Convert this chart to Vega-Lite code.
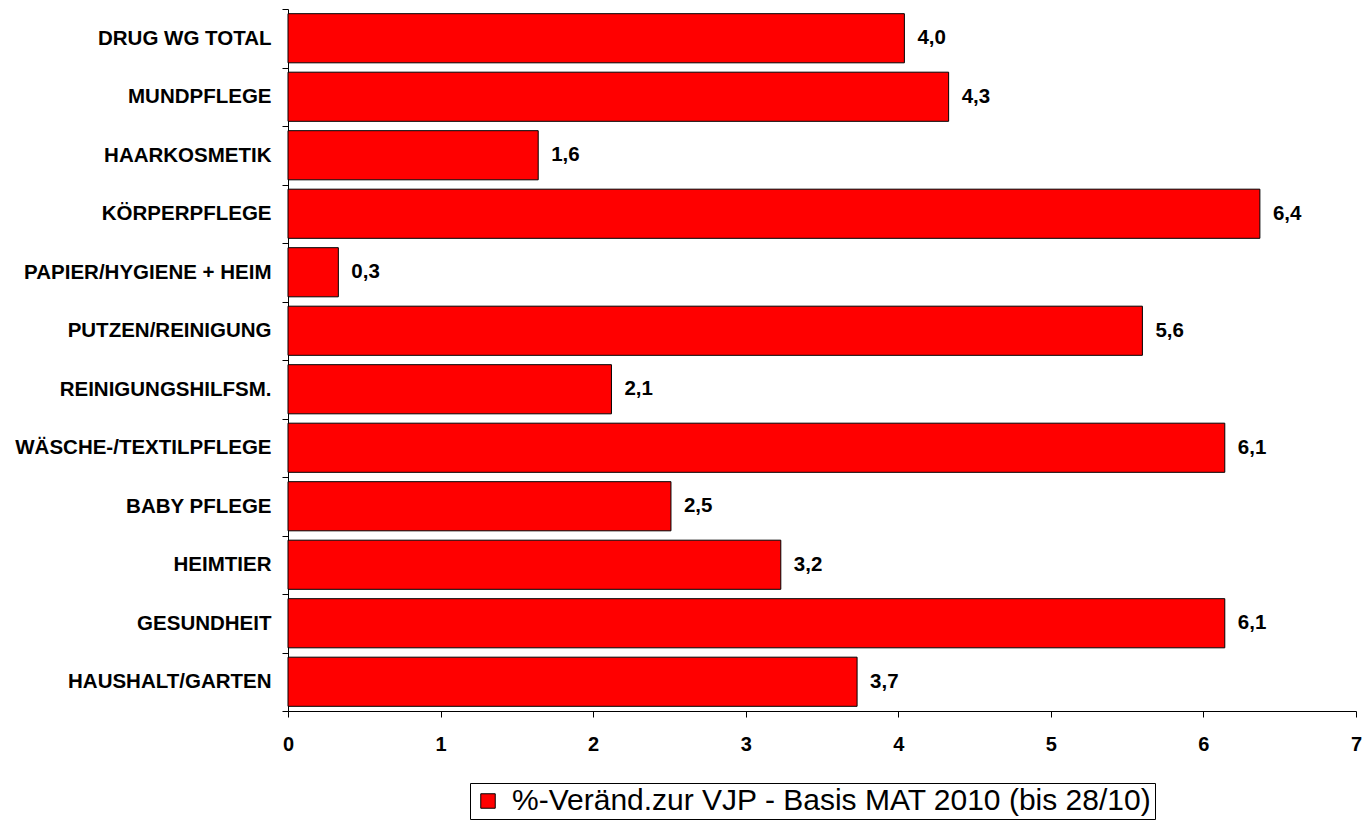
{
  "$schema": "https://vega.github.io/schema/vega-lite/v6.json",
  "autosize": {"type": "none"},
  "padding": {"left": 288, "top": 9, "right": 6, "bottom": 114},
  "width": 1068,
  "height": 702,
  "background": "white",
  "data": {
    "values": [
      {"kategorie": "DRUG WG TOTAL", "wert": 4.04, "label": "4,0", "serie": "%-Veränd.zur VJP - Basis MAT 2010 (bis 28/10)"},
      {"kategorie": "MUNDPFLEGE", "wert": 4.33, "label": "4,3", "serie": "%-Veränd.zur VJP - Basis MAT 2010 (bis 28/10)"},
      {"kategorie": "HAARKOSMETIK", "wert": 1.64, "label": "1,6", "serie": "%-Veränd.zur VJP - Basis MAT 2010 (bis 28/10)"},
      {"kategorie": "KÖRPERPFLEGE", "wert": 6.37, "label": "6,4", "serie": "%-Veränd.zur VJP - Basis MAT 2010 (bis 28/10)"},
      {"kategorie": "PAPIER/HYGIENE + HEIM", "wert": 0.33, "label": "0,3", "serie": "%-Veränd.zur VJP - Basis MAT 2010 (bis 28/10)"},
      {"kategorie": "PUTZEN/REINIGUNG", "wert": 5.6, "label": "5,6", "serie": "%-Veränd.zur VJP - Basis MAT 2010 (bis 28/10)"},
      {"kategorie": "REINIGUNGSHILFSM.", "wert": 2.12, "label": "2,1", "serie": "%-Veränd.zur VJP - Basis MAT 2010 (bis 28/10)"},
      {"kategorie": "WÄSCHE-/TEXTILPFLEGE", "wert": 6.14, "label": "6,1", "serie": "%-Veränd.zur VJP - Basis MAT 2010 (bis 28/10)"},
      {"kategorie": "BABY PFLEGE", "wert": 2.51, "label": "2,5", "serie": "%-Veränd.zur VJP - Basis MAT 2010 (bis 28/10)"},
      {"kategorie": "HEIMTIER", "wert": 3.23, "label": "3,2", "serie": "%-Veränd.zur VJP - Basis MAT 2010 (bis 28/10)"},
      {"kategorie": "GESUNDHEIT", "wert": 6.14, "label": "6,1", "serie": "%-Veränd.zur VJP - Basis MAT 2010 (bis 28/10)"},
      {"kategorie": "HAUSHALT/GARTEN", "wert": 3.73, "label": "3,7", "serie": "%-Veränd.zur VJP - Basis MAT 2010 (bis 28/10)"}
    ]
  },
  "encoding": {
    "y": {
      "field": "kategorie",
      "type": "nominal",
      "sort": null,
      "title": null,
      "scale": {"paddingInner": 0, "paddingOuter": 0},
      "axis": {
        "tickBand": "extent",
        "tickSize": 6,
        "tickColor": "black",
        "domainColor": "black",
        "domainWidth": 1,
        "labelPadding": 11,
        "labelFont": "Liberation Sans",
        "labelFontSize": 20.5,
        "labelFontWeight": "bold",
        "labelColor": "black",
        "labelLimit": 400
      }
    },
    "x": {
      "field": "wert",
      "type": "quantitative",
      "title": null,
      "scale": {"domain": [0, 7], "nice": false},
      "axis": {
        "values": [0, 1, 2, 3, 4, 5, 6, 7],
        "grid": false,
        "tickSize": 6,
        "tickColor": "black",
        "domainColor": "black",
        "labelPadding": 17,
        "labelFont": "Liberation Sans",
        "labelFontSize": 20,
        "labelFontWeight": "bold",
        "labelColor": "black",
        "labelFlush": false
      }
    }
  },
  "layer": [
    {
      "mark": {"type": "bar", "height": {"band": 0.84}, "stroke": "black", "strokeWidth": 1},
      "encoding": {
        "color": {
          "field": "serie",
          "type": "nominal",
          "scale": {"range": ["#ff0000"]},
          "legend": {
            "orient": "none",
            "legendX": 182,
            "legendY": 774,
            "title": null,
            "symbolType": "square",
            "symbolSize": 210,
            "symbolStrokeColor": "black",
            "symbolStrokeWidth": 1,
            "labelFont": "Liberation Sans",
            "labelFontSize": 30,
            "labelColor": "black",
            "labelLimit": 900,
            "labelOffset": 9,
            "strokeColor": "black",
            "fillColor": "white",
            "padding": 3
          }
        }
      }
    },
    {
      "mark": {
        "type": "text",
        "align": "left",
        "baseline": "middle",
        "dx": 13,
        "font": "Liberation Sans",
        "fontSize": 20.5,
        "fontWeight": "bold",
        "color": "black"
      },
      "encoding": {"text": {"field": "label"}}
    }
  ],
  "config": {"view": {"stroke": null}}
}
